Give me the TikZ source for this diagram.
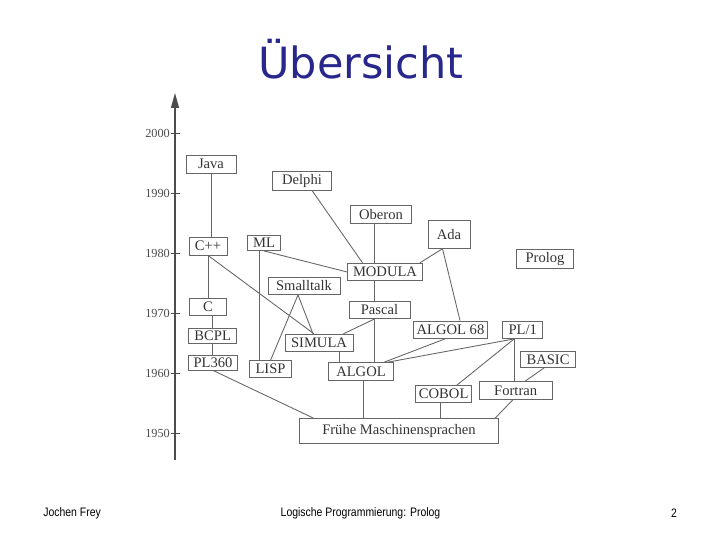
\documentclass[tikz,border=0pt]{standalone}
\usepackage{fontspec}
\setmainfont{Liberation Serif}
\newfontfamily\titlefont{DejaVu Sans}
\newfontfamily\footfont[FakeStretch=0.85]{Liberation Sans}
\usepackage{tikz}
\usetikzlibrary{arrows.meta}
\definecolor{titleblue}{RGB}{40,40,140}

\begin{document}
\begin{tikzpicture}[x=0.02cm,y=-0.02cm,
    lang/.style={draw=black!60, line width=0.5pt, inner sep=0pt, text=black!80,
      font=\fontsize{8.3}{10}\selectfont},
    link/.style={draw=black!60, line width=0.5pt},
    year/.style={font=\fontsize{7}{8}\selectfont, text=black!70, anchor=east, inner sep=1pt},
    foot/.style={font=\footfont\fontsize{7}{8}\selectfont, inner sep=0pt}]
  \useasboundingbox (0,0) rectangle (720,540);
  \node[font=\titlefont\fontsize{24.5}{28}\selectfont, text=titleblue, anchor=base] (title) at (361,78.5) {Übersicht};

  % time axis
  \coordinate (axisfoot) at (175,460);
  \coordinate (axistip) at (175,93);
  \draw[black!70, line width=0.7pt, -{Triangle[length=3mm,width=1.6mm]}] (axisfoot) -- (axistip);
  \foreach \yr/\y in {2000/133,1990/193,1980/253,1970/313,1960/373,1950/433} {
    \draw[black!70] (171,\y) -- (180,\y);
    \node[year] (y\yr) at (172,\y) {\yr};
  }

  % languages
  \node[lang, minimum width=10mm, minimum height=3.6mm] (java) at (211,164) {Java};
  \node[lang, minimum width=11.8mm, minimum height=3.8mm] (delphi) at (302,180.5) {Delphi};
  \node[lang, minimum width=7.6mm, minimum height=3.6mm] (cpp) at (208,246) {C++};
  \node[lang, minimum width=6.6mm, minimum height=3mm] (ml) at (264,243) {ML};
  \node[lang, minimum width=12.2mm, minimum height=3.5mm] (oberon) at (381,214.5) {Oberon};
  \node[lang, minimum width=8.4mm, minimum height=5.5mm] (ada) at (449,234.5) {Ada};
  \node[lang, minimum width=11.4mm, minimum height=3.8mm] (prolog) at (545,259) {Prolog};
  \node[lang, minimum width=15mm, minimum height=3.5mm] (modula) at (385,272) {MODULA};
  \node[lang, minimum width=14.4mm, minimum height=3.4mm] (smalltalk) at (304,286) {Smalltalk};
  \node[lang, minimum width=12.2mm, minimum height=3.5mm] (pascal) at (379.5,310) {Pascal};
  \node[lang, minimum width=7.4mm, minimum height=3.4mm] (c) at (208,306.7) {C};
  \node[lang, minimum width=9.6mm, minimum height=3.1mm] (bcpl) at (212.7,336) {BCPL};
  \node[lang, minimum width=14.9mm, minimum height=3.5mm] (algol68) at (450.5,329.7) {ALGOL 68};
  \node[lang, minimum width=8mm, minimum height=3.5mm] (pl1) at (522.7,329.7) {PL/1};
  \node[lang, minimum width=13.6mm, minimum height=3.5mm] (simula) at (319,343) {SIMULA};
  \node[lang, minimum width=11.1mm, minimum height=3.3mm] (basic) at (548,359.3) {BASIC};
  \node[lang, minimum width=9.9mm, minimum height=3mm] (pl360) at (213,362.5) {PL360};
  \node[lang, minimum width=8.5mm, minimum height=3.3mm] (lisp) at (270.5,369) {LISP};
  \node[lang, minimum width=13mm, minimum height=3.6mm] (algol) at (361,371.7) {ALGOL};
  \node[lang, minimum width=11.2mm, minimum height=3.3mm] (cobol) at (443.7,394) {COBOL};
  \node[lang, minimum width=14.7mm, minimum height=3.5mm] (fortran) at (515.7,390.3) {Fortran};
  \node[lang, minimum width=39.7mm, minimum height=5mm] (fruehe) at (399,431) {Frühe Maschinensprachen};

  % lines of descent
  \coordinate (spine) at ([xshift=-1.4mm]oberon.south);
  \coordinate (plfoot) at ([xshift=-1.7mm]pl1.south);
  \coordinate (mlfoot) at ([xshift=-1mm]ml.south);
  \coordinate (stfoot) at ([xshift=-1.2mm]smalltalk.south);
  \coordinate (adafoot) at ([xshift=-1.3mm]ada.south);
  \coordinate (simfoot) at ([xshift=4mm]simula.south);
  \coordinate (cobfoot) at ([xshift=-0.6mm]cobol.south);
  \coordinate (algfoot) at ([xshift=0.5mm]algol.south);
  \draw[link] (java.south) -- (java.south |- cpp.north);
  \draw[link] (cpp.south) -- (c.north);
  \draw[link] (bcpl.north |- c.south) -- (bcpl.north);
  \draw[link] (bcpl.south) -- (bcpl.south |- pl360.north);
  \draw[link] (pl360.south) -- ([xshift=2.8mm]fruehe.north west);
  \draw[link] (cpp.south) -- ([xshift=-1mm]simula.north);
  \draw[link] (mlfoot) -- (mlfoot |- lisp.north);
  \draw[link] (ml.south) -- (modula.west);
  \draw[link] (stfoot) -- ([xshift=-1.2mm]simula.north);
  \draw[link] (stfoot) -- (lisp.north);
  \draw[link] ([xshift=2mm]delphi.south) -- ([xshift=-4.5mm]modula.north);
  \draw[link] (spine) -- (spine |- modula.north);
  \draw[link] (spine |- modula.south) -- (spine |- pascal.north);
  \draw[link] (spine |- pascal.south) -- (spine |- algol.north);
  \draw[link] (adafoot) -- ([xshift=-0.6mm]modula.north east);
  \draw[link] (adafoot) -- ([xshift=1.9mm]algol68.north);
  \draw[link] (spine |- pascal.south) -- ([xshift=-2mm]simula.north east);
  \draw[link] (simfoot) -- (simfoot |- algol.north);
  \draw[link] ([xshift=-1.1mm]algol68.south) -- ([xshift=-2mm]algol.north east);
  \draw[link] (plfoot) -- ([xshift=-1.3mm]algol.north east);
  \draw[link] (plfoot) -- ([xshift=2.6mm]cobol.north);
  \draw[link] (plfoot) -- (plfoot |- fortran.north);
  \draw[link] ([xshift=-0.8mm]basic.south) -- ([xshift=1.9mm]fortran.north);
  \draw[link] ([xshift=-0.5mm]fortran.south) -- ([xshift=-0.7mm]fruehe.north east);
  \draw[link] (cobfoot) -- (cobfoot |- fruehe.north);
  \draw[link] (algfoot) -- (algfoot |- fruehe.north);

  % footer
  \node[foot, anchor=west] (author) at (43,513) {Jochen Frey};
  \node[foot] (course) at (360.5,513) {Logische Programmierung: Prolog};
  \node[foot] (page) at (674,513) {2};
\end{tikzpicture}
\end{document}
